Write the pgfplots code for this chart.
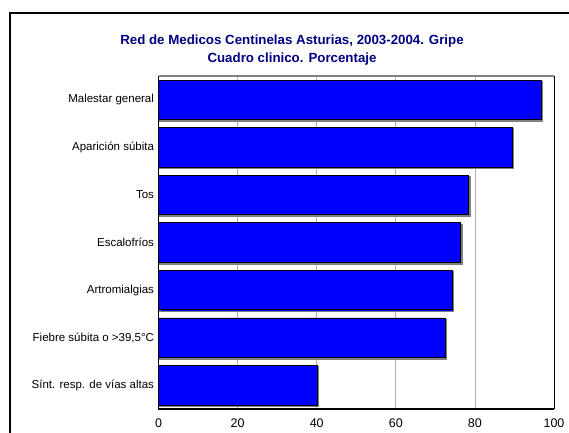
\documentclass[border=0pt]{standalone}
\usepackage{fontspec}
\setmainfont{Liberation Sans}
\usepackage{pgfplots}
\pgfplotsset{compat=1.18}
\definecolor{titleblue}{RGB}{0,0,128}
\definecolor{barblue}{RGB}{0,0,255}
\begin{document}
\begin{tikzpicture}
\useasboundingbox (0pt,0pt) rectangle (569pt,-432pt);
\draw[line width=2pt] (10pt,-440pt) -- (10pt,-13pt) -- (580pt,-13pt);
\node[align=center, text=titleblue, font=\fontsize{13.3}{18}\selectfont\bfseries] at (292pt,-50.5pt) {Red de Medicos Centinelas Asturias, 2003-2004. Gripe\\Cuadro clinico. Porcentaje};
\begin{axis}[
  at={(158.5pt,-409pt)}, anchor=south west,
  scale only axis, width=395.5pt, height=333pt,
  xmin=0, xmax=100, ymin=-0.5, ymax=6.5,
  xtick={0,20,40,60,80,100},
  ytick={0,1,2,3,4,5,6},
  yticklabels={Sínt. resp. de vías altas,{Fiebre súbita o >39,5°C},Artromialgias,Escalofríos,Tos,Aparición súbita,Malestar general},
  major tick length=0pt,
  xmajorgrids, major grid style={gray!60, line width=0.7pt},
  axis line style={draw=none},
  tick label style={font=\fontsize{11.5}{13}\selectfont},
  xticklabel style={font=\fontsize{12.5}{14}\selectfont, yshift=-6pt},
  /pgf/number format/assume math mode=true,
  yticklabel style={xshift=-1pt},
  clip=false,
]
\addplot[xbar, fill=barblue, draw=black, line width=0.8pt, bar width=39.5pt,
  preaction={draw=gray, line width=1.5pt, transform canvas={shift={(1.5pt,-1.5pt)}}}]
  coordinates {(40.1,0) (72.5,1) (74.2,2) (76.3,3) (78.4,4) (89.4,5) (96.7,6)};
\draw[gray, line width=1.2pt] (rel axis cs:0,1) -- (rel axis cs:1,1);
\draw[black, line width=1pt] (rel axis cs:1,1) -- (rel axis cs:1,0);
\draw[black, line width=1.2pt] (rel axis cs:0,1) -- (rel axis cs:0,0) -- (rel axis cs:1,0);
\end{axis}
\end{tikzpicture}
\end{document}
